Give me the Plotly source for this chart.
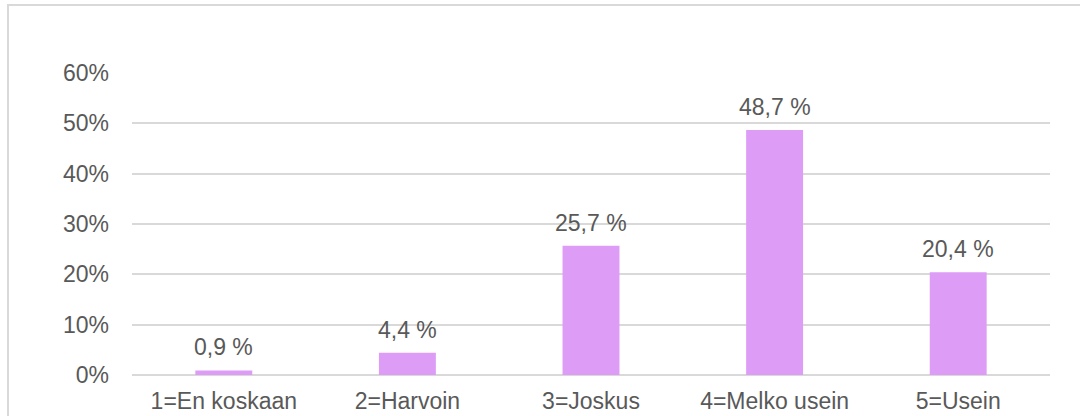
import plotly.graph_objects as go

# Survey answer frequencies (share of respondents)
categories = ["1=En koskaan", "2=Harvoin", "3=Joskus", "4=Melko usein", "5=Usein"]
shares = [0.009, 0.044, 0.257, 0.487, 0.204]
value_labels = ["0,9 %", "4,4 %", "25,7 %", "48,7 %", "20,4 %"]
y_ticks = [0, 0.1, 0.2, 0.3, 0.4, 0.5, 0.6]
y_tick_text = ["0%", "10%", "20%", "30%", "40%", "50%", "60%"]

FONT = "Liberation Sans, Arial, sans-serif"
TEXT_COLOR = "#595959"
GRID = "#d9d9d9"

fig = go.Figure(
    go.Bar(
        x=categories,
        y=shares,
        marker=dict(color="#dd9cf6", line=dict(width=0)),
        width=0.31,
        hoverinfo="skip",
    )
)

# Value labels above each bar
for cat, val, lab in zip(categories, shares, value_labels):
    fig.add_annotation(
        x=cat, y=val, text=lab, showarrow=False,
        yanchor="bottom", yshift=8,
        font=dict(family=FONT, size=23, color=TEXT_COLOR),
    )

# Light frame around the chart
fig.add_shape(
    type="rect", xref="paper", yref="paper",
    x0=-0.1351, x1=1.2, y0=-0.3, y1=1.2252,
    line=dict(color=GRID, width=2), layer="below",
)

fig.update_layout(
    width=1080, height=416,
    margin=dict(l=132, r=30, t=73, b=41),
    paper_bgcolor="white", plot_bgcolor="white",
    showlegend=False,
    font=dict(family=FONT, size=23, color=TEXT_COLOR),
    bargap=0.69,
    xaxis=dict(
        showgrid=False, showline=False, zeroline=False,
        ticks="", ticklabelstandoff=10, automargin=False,
        tickfont=dict(size=23, color=TEXT_COLOR),
    ),
    yaxis=dict(
        range=[0, 0.6], tickvals=y_ticks, ticktext=y_tick_text,
        showgrid=True, gridcolor=GRID, gridwidth=1.5,
        zeroline=True, zerolinecolor=GRID, zerolinewidth=1.5,
        showline=False, ticks="", ticklabelstandoff=22, automargin=False,
        tickfont=dict(size=23, color=TEXT_COLOR),
    ),
)

fig.write_html("out.html")
